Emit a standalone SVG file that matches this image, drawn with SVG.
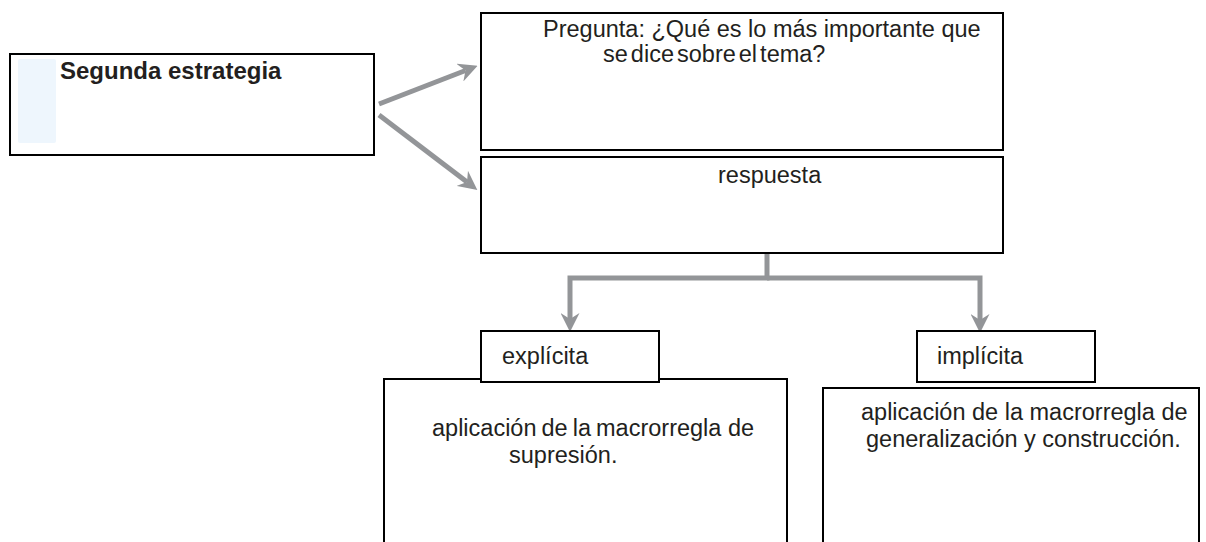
<svg xmlns="http://www.w3.org/2000/svg" width="1206" height="542" viewBox="0 0 1206 542">
<style>
.box{fill:#fff;stroke:#000;stroke-width:2}
.t{font-family:"Liberation Sans",Arial,sans-serif;font-size:23.5px;fill:#231F20}
.b{font-weight:bold;font-size:24px}
.c{fill:none;stroke:#939598;stroke-width:5}
</style>
<defs>
<marker id="ah" viewBox="0 0 19 19" refX="6" refY="9.5" markerWidth="19" markerHeight="19" markerUnits="userSpaceOnUse" orient="auto">
<path d="M0,0 L19,9.5 L0,19 L6,9.5 Z" fill="#939598"/>
</marker>
</defs>
<rect width="1206" height="542" fill="#fff"/>
<g id="connectors">
<path class="c" d="M379,104 L465.5,70.5" marker-end="url(#ah)"/>
<path class="c" d="M379,115 L467,182" marker-end="url(#ah)"/>
<path class="c" d="M767,253 L767,278 L570,278 L570,319" marker-end="url(#ah)"/>
<path class="c" d="M767,278 L980,278 L980,320" marker-end="url(#ah)"/>
</g>
<g id="node-segunda">
<rect class="box" x="10" y="54" width="364" height="101"/>
<rect x="18" y="59" width="38" height="84" rx="2" fill="#EEF6FD"/>
<text class="t b" x="60" y="79">Segunda estrategia</text>
</g>
<g id="node-pregunta">
<rect class="box" x="481" y="13" width="522" height="137"/>
<text class="t" x="543" y="37">Pregunta: ¿Qué es lo más importante que</text>
<text class="t" x="603" y="62" style="word-spacing:-3.5px">se dice sobre el tema?</text>
</g>
<g id="node-respuesta">
<rect class="box" x="481" y="157" width="522" height="96"/>
<text class="t" x="718" y="183">respuesta</text>
</g>
<g id="node-explicita-detalle">
<rect class="box" x="384" y="379" width="403" height="170"/>
<text class="t" x="432" y="436"><tspan style="word-spacing:-1.5px">aplicación de la </tspan>macrorregla de</text>
<text class="t" x="509" y="463">supresión.</text>
</g>
<g id="node-explicita">
<rect class="box" x="481" y="331" width="178" height="51"/>
<text class="t" x="502" y="364">explícita</text>
</g>
<g id="node-implicita-detalle">
<rect class="box" x="823" y="388" width="376" height="160"/>
<text class="t" x="861" y="420">aplicación de la macrorregla de</text>
<text class="t" x="866" y="447">generalización y construcción.</text>
</g>
<g id="node-implicita">
<rect class="box" x="917" y="331" width="178" height="51"/>
<text class="t" x="937" y="364">implícita</text>
</g>
</svg>
